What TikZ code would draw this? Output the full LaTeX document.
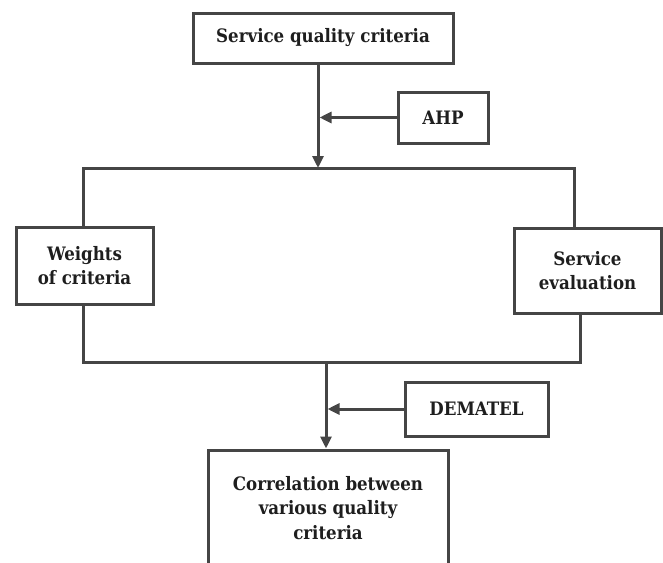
\documentclass[tikz,border=0pt]{standalone}
\usepackage{fontspec}
\setmainfont{DejaVu Serif Condensed}
\usetikzlibrary{arrows.meta}
\definecolor{lc}{HTML}{454545}
\definecolor{tc}{HTML}{1E1E1E}
\tikzset{
  box/.style={draw=lc, line width=3pt, fill=white, align=center, inner sep=0pt,
    text=tc, font=\fontsize{18.5}{24.5}\selectfont\bfseries},
  conn/.style={draw=lc, line width=3pt},
  arr/.style={conn, -{Triangle[length=12pt,width=11pt]}}
}
\begin{document}
\begin{tikzpicture}[x=1pt,y=-1pt]
\useasboundingbox (0,0) rectangle (663,562);
% nodes
\node[box, minimum width=260pt, minimum height=50pt] (top) at (323,38) {Service quality criteria};
\node[box, minimum width=90pt, minimum height=51pt] (ahp) at (443,117.5) {AHP};
\node[box, minimum width=137pt, minimum height=77pt] (wgt) at (84.5,265.5) {Weights\\of criteria};
\node[box, minimum width=147pt, minimum height=85pt] (sev) at (587.5,270.5) {Service\\evaluation};
\node[box, minimum width=143pt, minimum height=54pt] (dem) at (476.5,409) {DEMATEL};
\node[box, minimum width=240pt, minimum height=116pt] (corr) at (328,508) {Correlation between\\various quality\\criteria};
% junction coordinates
\coordinate (j1) at (318,168);
\coordinate (ftl) at (83,168);
\coordinate (ftr) at (574,168);
\coordinate (fbl) at (83,362);
\coordinate (fbr) at (580,362);
\coordinate (j2) at (326,362);
% connectors
\draw[arr] (j1 |- top.south) -- (j1);
\draw[arr] (ahp.west) -- ([xshift=1.5pt]ahp.west -| j1);
\draw[conn] (ftl |- wgt.north) -- (ftl) -- (ftr) -- (ftr |- sev.north);
\draw[conn] (fbl |- wgt.south) -- (fbl) -- (fbr) -- (fbr |- sev.south);
\draw[arr] (j2) -- (j2 |- corr.north);
\draw[arr] (dem.west) -- ([xshift=1.5pt]dem.west -| j2);
\end{tikzpicture}
\end{document}
